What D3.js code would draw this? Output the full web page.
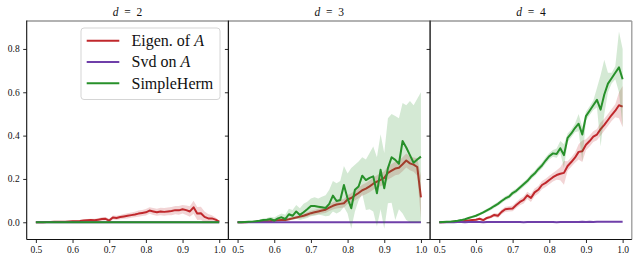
<!doctype html>
<html>
<head>
<meta charset="utf-8">
<script src="https://cdn.jsdelivr.net/npm/d3@7/dist/d3.min.js"></script>
<style>
  body { margin: 0; background: #fff; }
  svg text { font-family: "Liberation Serif", "DejaVu Serif", serif; fill: #111; }
</style>
</head>
<body>
<svg id="chart" width="639" height="263"></svg>
<script>
// data -----------------------------------------------------------
var xs = [0.50,0.51,0.52,0.53,0.54,0.55,0.56,0.57,0.58,0.59,
          0.60,0.61,0.62,0.63,0.64,0.65,0.66,0.67,0.68,0.69,
          0.70,0.71,0.72,0.73,0.74,0.75,0.76,0.77,0.78,0.79,
          0.80,0.81,0.82,0.83,0.84,0.85,0.86,0.87,0.88,0.89,
          0.90,0.91,0.92,0.93,0.94,0.95,0.96,0.97,0.98,0.99,1.00];

var dims = ["2", "3", "4"];
var seriesNames = ["Eigen. of ", "Svd on ", "SimpleHerm"];

// d = 2
var eigD2 = [0,0,0.0005,0.001,0.001,0.002,0.002,0.003,0.003,0.004,
             0.005,0.005,0.006,0.008,0.009,0.010,0.009,0.012,0.015,0.016,
             0.008,0.022,0.020,0.024,0.027,0.030,0.033,0.036,0.040,0.043,
             0.046,0.054,0.050,0.046,0.050,0.048,0.050,0.052,0.056,0.055,
             0.060,0.056,0.050,0.069,0.040,0.042,0.025,0.018,0.018,0.012,0.003];
var eigD2Err = [0,0.001,0.001,0.001,0.002,0.002,0.002,0.003,0.003,0.003,
                0.004,0.004,0.005,0.005,0.006,0.006,0.007,0.007,0.008,0.008,
                0.008,0.009,0.010,0.010,0.011,0.012,0.012,0.013,0.014,0.014,
                0.015,0.015,0.016,0.016,0.017,0.018,0.018,0.019,0.019,0.020,
                0.020,0.022,0.024,0.030,0.030,0.030,0.025,0.020,0.015,0.010,0.004];
var svdD2 = [0,0,0,0,0,0,0,0,0,0, 0,0,0,0,0,0,0,0,0,0, 0,0,0,0,0,0,0,0,0,0,
             0,0,0,0,0,0,0,0,0,0, 0,0,0,0,0,0,0,0,0,0, 0];
var hermD2 = [0,0,0,0,0,0,0,0,0,0, 0,0,0,0,0,0,0,0,0,0, 0,0,0,0,0,0,0,0,0,0,
              0,0,0,0,0,0,0,0,0,0, 0,0,0,0,0,0,0,0,0,0, 0];

// d = 3
var eigD3 = [0,0,0.0005,0.001,0.0015,0.002,0.003,0.004,0.005,0.006,
             0.008,0.009,0.010,0.011,0.014,0.018,0.022,0.026,0.030,0.036,
             0.042,0.046,0.050,0.054,0.058,0.068,0.076,0.082,0.085,0.088,
             0.105,0.112,0.124,0.135,0.148,0.155,0.166,0.178,0.188,0.196,
             0.205,0.228,0.238,0.248,0.252,0.268,0.285,0.272,0.266,0.255,0.115];
var eigD3Err = [0,0,0.0005,0.001,0.001,0.0015,0.002,0.002,0.003,0.003,
                0.004,0.004,0.005,0.005,0.006,0.006,0.007,0.008,0.009,0.010,
                0.011,0.012,0.013,0.014,0.015,0.016,0.017,0.018,0.019,0.020,
                0.021,0.022,0.023,0.024,0.025,0.026,0.027,0.028,0.029,0.030,
                0.030,0.030,0.031,0.031,0.032,0.032,0.032,0.032,0.033,0.040,0.100];
var svdD3 = [0,0,0,0,0,0,0,0,0,0, 0,0,0,0,0,0,0,0,0,0, 0,0,0,0,0,0,0,0,0,0,
             0,0,0,0,0,0,0,0,0,0, 0,0,0,0,0,0,0,0,0,0, 0];
var hermD3 = [0,0,0.001,0.002,0.003,0.005,0.007,0.010,0.012,0.015,
              0.008,0.018,0.023,0.015,0.037,0.030,0.050,0.034,0.046,0.060,
              0.075,0.075,0.072,0.069,0.066,0.085,0.123,0.098,0.103,0.172,
              0.110,0.065,0.150,0.165,0.215,0.195,0.205,0.212,0.134,0.242,
              0.157,0.250,0.300,0.288,0.270,0.375,0.345,0.310,0.275,0.290,0.303];
var hermD3Lo = [0,0,0,0.001,0.001,0.002,0.003,0.004,0.005,0.006,
                0.003,0.006,0.008,0.004,0.012,0.010,0.016,0.010,0.015,0.020,
                0.028,0.030,0.035,0.032,0.028,0.030,0.050,0.040,0.050,0.070,
                0.040,-0.030,0.050,0.100,0.130,0.057,0.060,0.050,-0.020,0.060,
                -0.030,0.088,0.090,0.010,0.060,0.040,0.010,0,0,0,0];
var hermD3Hi = [0,0.001,0.002,0.004,0.006,0.009,0.012,0.017,0.020,0.025,
                0.022,0.032,0.040,0.035,0.062,0.057,0.080,0.065,0.085,0.095,
                0.110,0.115,0.110,0.118,0.125,0.150,0.190,0.180,0.190,0.260,
                0.225,0.250,0.265,0.280,0.300,0.290,0.320,0.350,0.300,0.406,
                0.320,0.480,0.500,0.490,0.480,0.550,0.540,0.560,0.540,0.570,0.600];

// d = 4
var eigD4 = [0,0,0.001,0.001,0.002,0.003,0.004,0.006,0.008,0.010,
             0.012,0.016,0.010,0.020,0.025,0.034,0.030,0.048,0.060,0.062,
             0.064,0.080,0.094,0.103,0.124,0.112,0.138,0.150,0.172,0.182,
             0.195,0.208,0.218,0.224,0.228,0.260,0.278,0.298,0.325,0.328,
             0.358,0.375,0.395,0.405,0.430,0.450,0.472,0.495,0.515,0.540,0.534];
var eigD4Err = [0,0.001,0.001,0.002,0.002,0.003,0.003,0.004,0.004,0.005,
                0.005,0.006,0.006,0.007,0.008,0.009,0.010,0.011,0.012,0.012,
                0.013,0.014,0.015,0.016,0.017,0.018,0.018,0.018,0.019,0.019,
                0.020,0.020,0.022,0.030,0.055,0.022,0.022,0.023,0.035,0.050,
                0.025,0.025,0.025,0.026,0.030,0.028,0.028,0.028,0.030,0.060,0.095];
var svdD4 = [0,0,0,0,0,0.001,0.001,0,0.001,0.001, 0.001,0.001,0,0.001,0.001,0.001,0.001,0.001,0.001,0.001,
             0.001,0.001,0.001,0,0.001,0.001,0.001,0.001,0.001,0.001, 0.001,0.001,0,0.001,0.001,0.001,0.001,0.001,0.001,0.002,
             0.001,0.002,0.001,0.002,0.002,0.002,0.002,0.003,0.002,0.003,0.003];
var hermD4 = [0,0.001,0.002,0.003,0.005,0.007,0.010,0.014,0.020,0.025,
              0.030,0.038,0.046,0.055,0.064,0.075,0.085,0.098,0.110,0.118,
              0.135,0.145,0.160,0.175,0.190,0.210,0.225,0.245,0.262,0.285,
              0.305,0.318,0.315,0.342,0.310,0.390,0.410,0.435,0.455,0.405,
              0.490,0.515,0.540,0.565,0.520,0.590,0.640,0.665,0.690,0.715,0.660];
var hermD4Lo = [0,0,0.001,0.002,0.003,0.005,0.007,0.010,0.015,0.020,
                0.024,0.032,0.039,0.048,0.056,0.066,0.076,0.088,0.100,0.108,
                0.124,0.134,0.149,0.163,0.178,0.197,0.212,0.231,0.248,0.270,
                0.290,0.302,0.298,0.320,0.250,0.370,0.392,0.415,0.420,0.280,
                0.470,0.495,0.518,0.530,0.350,0.500,0.600,0.640,0.660,0.600,0.440];
var hermD4Hi = [0,0.002,0.003,0.004,0.007,0.009,0.013,0.018,0.025,0.030,
                0.036,0.044,0.053,0.062,0.072,0.084,0.094,0.108,0.120,0.128,
                0.146,0.156,0.171,0.187,0.202,0.223,0.238,0.259,0.276,0.300,
                0.320,0.334,0.340,0.375,0.360,0.410,0.428,0.455,0.500,0.440,
                0.510,0.535,0.562,0.620,0.680,0.750,0.690,0.690,0.720,0.880,0.800];

var xTicks = [0.5, 0.6, 0.7, 0.8, 0.9, 1.0];
var yTicks = [0.0, 0.2, 0.4, 0.6, 0.8];

// layout ----------------------------------------------------------
var colors = ["#c0282c", "#6f3fa9", "#27902a"];
var panelLeft = [26.7, 228.4, 430.1];
var panelW = 201.7;
var plotTop = 21, plotBottom = 239.5;

var panels = [
  {d: dims[0], y: [eigD2, svdD2, hermD2],
   lo: [eigD2.map((v, i) => v - eigD2Err[i]), null, hermD2],
   hi: [eigD2.map((v, i) => v + eigD2Err[i]), null, hermD2]},
  {d: dims[1], y: [eigD3, svdD3, hermD3],
   lo: [eigD3.map((v, i) => v - eigD3Err[i]), null, hermD3Lo],
   hi: [eigD3.map((v, i) => v + eigD3Err[i]), null, hermD3Hi]},
  {d: dims[2], y: [eigD4, svdD4, hermD4],
   lo: [eigD4.map((v, i) => v - eigD4Err[i]), null, hermD4Lo],
   hi: [eigD4.map((v, i) => v + eigD4Err[i]), null, hermD4Hi]}
];

var svg = d3.select("#chart");
var x = d3.scaleLinear().domain([0.475, 1.025]).range([0, panelW]);
var y = d3.scaleLinear().domain([-0.0795, 0.929]).range([plotBottom, plotTop]);

svg.append("defs").append("clipPath").attr("id", "clip")
  .append("rect").attr("x", 0).attr("y", plotTop).attr("width", panelW).attr("height", plotBottom - plotTop);

panels.forEach(function(p, k) {
  var g = svg.append("g").attr("transform", "translate(" + [panelLeft[k], 0] + ")");
  var plot = g.append("g").attr("clip-path", "url(#clip)");

  p.y.forEach(function(ys, s) {
    if (p.lo[s]) {
      var area = d3.area()
        .x(function(d, i) { return x(xs[i]); })
        .y0(function(d, i) { return y(p.lo[s][i]); })
        .y1(function(d, i) { return y(p.hi[s][i]); });
      plot.append("path").attr("d", area(xs))
        .style("fill", colors[s]).style("fill-opacity", 0.2).style("stroke", "none");
    }
    var line = d3.line()
      .x(function(d, i) { return x(xs[i]); })
      .y(function(d) { return y(d); });
    plot.append("path").attr("d", line(ys))
      .style("fill", "none").style("stroke", colors[s])
      .style("stroke-width", 2).style("stroke-linejoin", "round");
  });

  // frame
  g.append("line").attr("x1", 0).attr("x2", panelW).attr("y1", plotTop).attr("y2", plotTop)
    .style("stroke", "#999").style("stroke-width", 1.3);
  g.append("line").attr("x1", panelW).attr("x2", panelW).attr("y1", plotTop).attr("y2", plotBottom)
    .style("stroke", "#999").style("stroke-width", 1.3);
  g.append("line").attr("x1", 0).attr("x2", 0).attr("y1", plotTop - 0.6).attr("y2", plotBottom)
    .style("stroke", "#111").style("stroke-width", 1.1);
  g.append("line").attr("x1", 0).attr("x2", panelW).attr("y1", plotBottom).attr("y2", plotBottom)
    .style("stroke", "#111").style("stroke-width", 1.1);

  // axes
  var xa = g.append("g").attr("transform", "translate(0," + plotBottom + ")")
    .call(d3.axisBottom(x).tickValues(xTicks).tickFormat(d3.format(".1f")).tickSize(3.5).tickPadding(3));
  var ya = g.append("g")
    .call(d3.axisLeft(y).tickValues(yTicks).tickFormat(k === 0 ? d3.format(".1f") : "").tickSize(3.5).tickPadding(3.5));
  [xa, ya].forEach(function(a) {
    a.select(".domain").remove();
    a.selectAll("line").style("stroke", "#111").style("stroke-width", 0.9);
    a.selectAll("text").style("font-size", "9.5px")
      .style("font-family", "'Liberation Serif', serif");
  });

  // title
  var t = g.append("text").attr("x", panelW / 2).attr("y", 15.5)
    .attr("text-anchor", "middle").style("font-size", "11.5px");
  t.append("tspan").style("font-style", "italic").text("d");
  t.append("tspan").text("\u2002=\u2002" + p.d);
});

// legend
var lg = svg.append("g").attr("transform", "translate(81,28)");
lg.append("rect").attr("width", 139).attr("height", 71.5).attr("rx", 3)
  .style("fill", "#fff").style("fill-opacity", 0.8).style("stroke", "#d0d0d0").style("stroke-width", 0.9);
seriesNames.forEach(function(name, s) {
  var yy = 12.7 + s * 21.3;
  lg.append("line").attr("x1", 5.7).attr("x2", 38.3).attr("y1", yy).attr("y2", yy)
    .style("stroke", colors[s]).style("stroke-width", 2);
  var tx = lg.append("text").attr("x", 50.5).attr("y", yy + 5.3).style("font-size", "16px");
  tx.append("tspan").text(name);
  if (s < 2) tx.append("tspan").style("font-style", "italic").text("A");
});
</script>
</body>
</html>
